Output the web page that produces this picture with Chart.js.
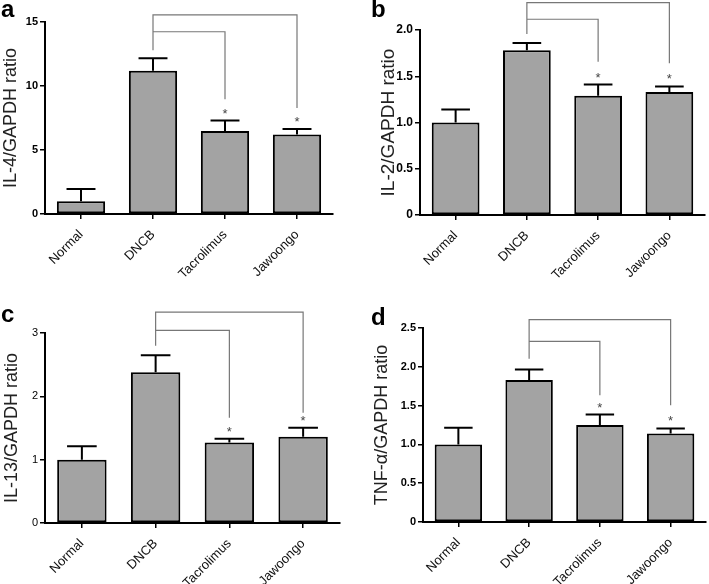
<!DOCTYPE html>
<html>
<head>
<meta charset="utf-8">
<script src="https://cdn.jsdelivr.net/npm/chart.js@4.4.0/dist/chart.umd.min.js"></script>
<style>
  body { margin: 0; background: #fff; }
  #wrap { position: relative; width: 709px; height: 584px; overflow: hidden; }
  canvas { position: absolute; }
  .tag { position: absolute; font: bold 24px "Liberation Sans", Arial, sans-serif; line-height: 24px; color: #000; }
</style>
</head>
<body>
<div id="wrap">
  <canvas id="chartA" width="355" height="290" style="left:0;top:0"></canvas>
  <canvas id="chartB" width="354" height="290" style="left:355px;top:0"></canvas>
  <canvas id="chartC" width="355" height="294" style="left:0;top:290px"></canvas>
  <canvas id="chartD" width="354" height="294" style="left:355px;top:290px"></canvas>
  <div class="tag" style="left:1px;top:-3px">a</div>
  <div class="tag" style="left:371px;top:-3px">b</div>
  <div class="tag" style="left:1px;top:302px">c</div>
  <div class="tag" style="left:371px;top:305px">d</div>
</div>
<script>
// groups on the x axis
const categories = ['Normal', 'DNCB', 'Tacrolimus', 'Jawoongo'];

// mean ratio and SEM for each panel
const il4Mean = [1.0, 11.2, 6.48, 6.22];
const il4Sem = [0.95, 0.96, 0.82, 0.42];
const il2Mean = [1.0, 1.78, 1.29, 1.33];
const il2Sem = [0.14, 0.08, 0.12, 0.06];
const il13Mean = [1.0, 2.38, 1.27, 1.36];
const il13Sem = [0.21, 0.27, 0.06, 0.145];
const tnfMean = [1.0, 1.83, 1.25, 1.14];
const tnfSem = [0.215, 0.135, 0.135, 0.065];

// significance brackets: [DNCB start, inner level, outer level, Tacrolimus end, Jawoongo end]
const il4Bracket = [12.8, 14.24, 15.55, 8.96, 8.28];
const il2Bracket = [1.957, 2.116, 2.295, 1.657, 1.64];
const il13Bracket = [2.8, 3.04, 3.33, 1.66, 1.74];
const tnfBracket = [2.105, 2.328, 2.607, 1.632, 1.503];

// y axis ticks
const il4Ticks = { max: 15, step: 5 };
const il2Ticks = { max: 2, step: 0.5 };
const il13Ticks = { max: 3, step: 1 };
const tnfTicks = { max: 2.5, step: 0.5 };

Chart.defaults.font.family = '"Liberation Sans", Arial, sans-serif';

const errorBars = {
    id: 'errorBars',
    afterDatasetsDraw(chart) {
        const ctx = chart.ctx;
        const ys = chart.scales.y;
        const ds = chart.data.datasets[0];
        chart.getDatasetMeta(0).data.forEach(function (bar, i) {
            const top = ys.getPixelForValue(ds.data[i] + ds.sem[i]);
            const cap = bar.width * 0.3;
            ctx.save();
            ctx.strokeStyle = '#000';
            ctx.lineWidth = 2;
            ctx.beginPath();
            ctx.moveTo(bar.x, bar.y);
            ctx.lineTo(bar.x, top);
            ctx.moveTo(bar.x - cap, top);
            ctx.lineTo(bar.x + cap, top);
            ctx.stroke();
            ctx.restore();
        });
    }
};

const sigBrackets = {
    id: 'sigBrackets',
    afterDraw(chart, args, opts) {
        const lv = opts.levels;
        if (!lv) return;
        const ctx = chart.ctx;
        const ys = chart.scales.y;
        const ds = chart.data.datasets[0];
        const bars = chart.getDatasetMeta(0).data;
        const px = v => ys.getPixelForValue(v);
        const xD = bars[1].x, xT = bars[2].x, xJ = bars[3].x;
        ctx.save();
        ctx.strokeStyle = '#777';
        ctx.lineWidth = 1.2;
        ctx.beginPath();
        ctx.moveTo(xD, px(lv[0]));
        ctx.lineTo(xD, px(lv[2]));
        ctx.lineTo(xJ, px(lv[2]));
        ctx.lineTo(xJ, px(lv[4]));
        ctx.moveTo(xD, px(lv[1]));
        ctx.lineTo(xT, px(lv[1]));
        ctx.lineTo(xT, px(lv[3]));
        ctx.stroke();
        // stars over the treated groups
        ctx.fillStyle = '#444';
        ctx.font = '13px "Liberation Sans", Arial, sans-serif';
        ctx.textAlign = 'center';
        ctx.textBaseline = 'alphabetic';
        [2, 3].forEach(function (i) {
            ctx.fillText('*', bars[i].x, px(ds.data[i] + ds.sem[i]) - 3);
        });
        ctx.restore();
    }
};

function oneDecimal(v) {
    return v === 0 ? '0' : v.toFixed(1);
}

function makePanel(id, p) {
    new Chart(document.getElementById(id), {
        type: 'bar',
        data: {
            labels: categories,
            datasets: [{
                data: p.mean,
                sem: p.sem,
                backgroundColor: '#a3a3a3',
                borderColor: '#000',
                borderWidth: 2,
                borderSkipped: false,
                categoryPercentage: 1,
                barPercentage: 0.67
            }]
        },
        options: {
            responsive: false,
            animation: false,
            layout: { padding: { top: p.padTop, right: p.padRight, left: 0, bottom: 0 } },
            plugins: {
                legend: { display: false },
                tooltip: { enabled: false },
                sigBrackets: { levels: p.bracket }
            },
            scales: {
                x: {
                    grid: { drawOnChartArea: false, offset: false, tickLength: 5, color: '#000', lineWidth: 1.5 },
                    border: { color: '#000', width: 2 },
                    ticks: { maxRotation: 45, minRotation: 45, padding: 8, color: '#111', font: { size: 13 } },
                    afterFit: s => { s.height = p.xHeight; }
                },
                y: {
                    min: 0,
                    max: p.ticks.max,
                    ticks: {
                        stepSize: p.ticks.step,
                        callback: p.fmt,
                        padding: 2,
                        color: '#000',
                        font: { size: p.tickSize, weight: p.tickWeight }
                    },
                    grid: { drawOnChartArea: false, tickLength: 5, color: '#000', lineWidth: 1.5 },
                    border: { color: '#000', width: 2 },
                    title: {
                        display: true,
                        text: p.title,
                        color: '#222',
                        font: { size: p.titleSize },
                        padding: { top: p.titlePad, bottom: 0 }
                    },
                    afterFit: s => { s.width = p.yWidth; }
                }
            }
        },
        plugins: [errorBars, sigBrackets]
    });
}

makePanel('chartA', {
    mean: il4Mean, sem: il4Sem, bracket: il4Bracket, ticks: il4Ticks,
    title: 'IL-4/GAPDH ratio', titleSize: 18, titlePad: 0,
    tickSize: 11, tickWeight: 'bold', fmt: v => v,
    yWidth: 45, padTop: 22, padRight: 22, xHeight: 76
});
makePanel('chartB', {
    mean: il2Mean, sem: il2Sem, bracket: il2Bracket, ticks: il2Ticks,
    title: 'IL-2/GAPDH ratio', titleSize: 19, titlePad: 22,
    tickSize: 12, tickWeight: 'bold', fmt: oneDecimal,
    yWidth: 65, padTop: 30, padRight: 4, xHeight: 75
});
makePanel('chartC', {
    mean: il13Mean, sem: il13Sem, bracket: il13Bracket, ticks: il13Ticks,
    title: 'IL-13/GAPDH ratio', titleSize: 18, titlePad: 1,
    tickSize: 11, tickWeight: 'normal', fmt: v => v,
    yWidth: 45, padTop: 43, padRight: 15, xHeight: 61
});
makePanel('chartD', {
    mean: tnfMean, sem: tnfSem, bracket: tnfBracket, ticks: tnfTicks,
    title: 'TNF-α/GAPDH ratio', titleSize: 18, titlePad: 16,
    tickSize: 11, tickWeight: 'bold', fmt: oneDecimal,
    yWidth: 68, padTop: 38, padRight: 3, xHeight: 62
});
</script>
</body>
</html>
